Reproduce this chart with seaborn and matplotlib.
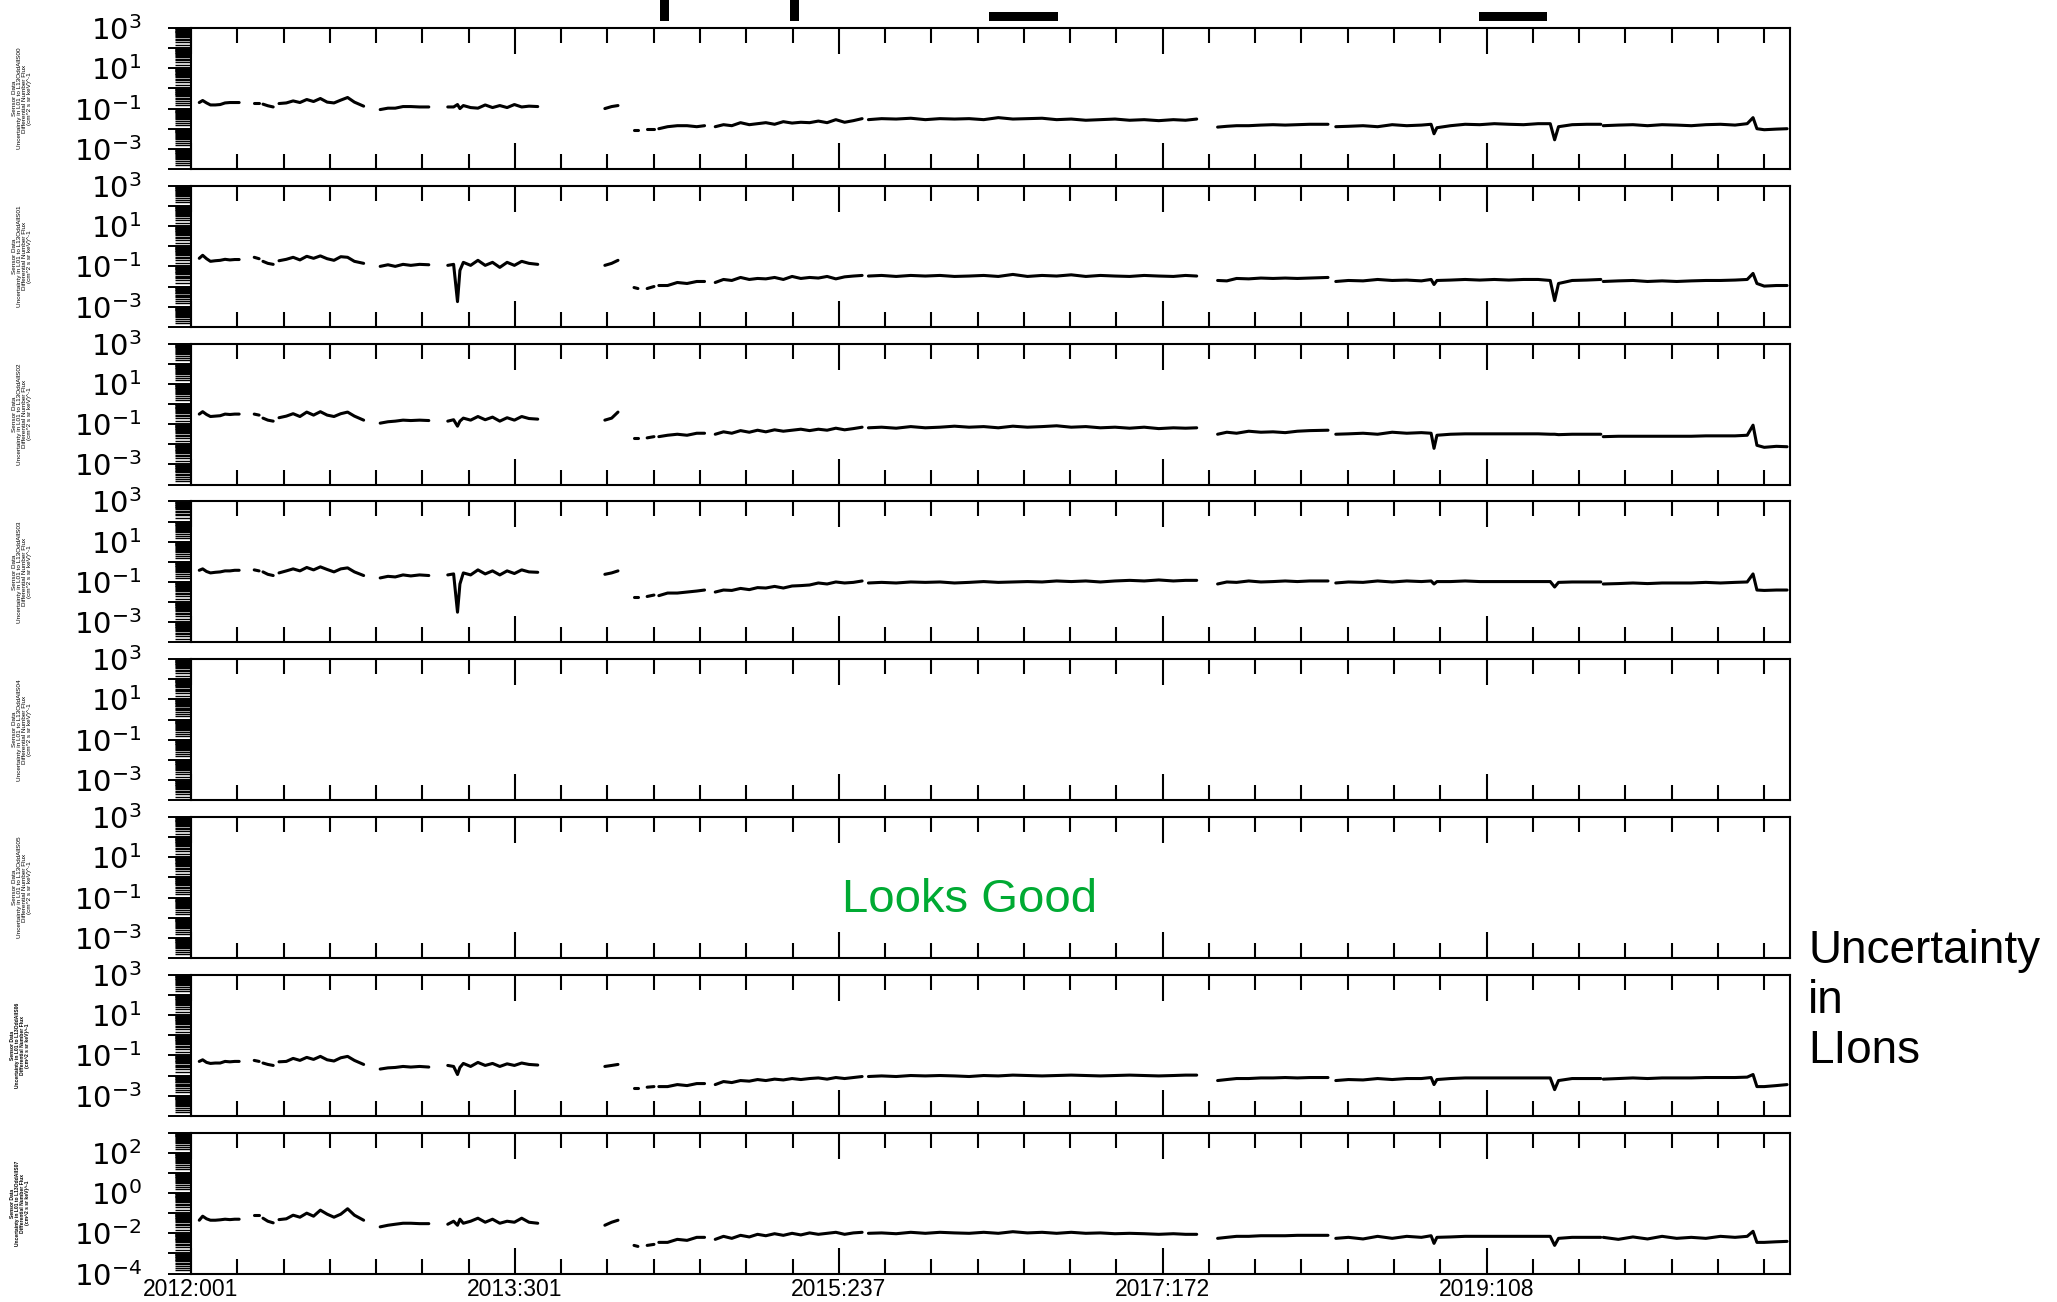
import numpy as np
import pandas as pd
import matplotlib
matplotlib.use("Agg")
import matplotlib.pyplot as plt
import matplotlib.ticker as mticker
import seaborn as sns

# ---------------- data (x: days since 2012:001, y: log10 of uncertainty) ----------------
seg_A = [17, 24, 32, 40, 50, 60, 70, 80, 90, 99]
seg_B = [130, 140]
seg_C = [148, 158, 169]
seg_D = [181, 196, 210, 224, 238, 252, 266, 280, 294, 308, 322, 336, 355]
seg_E = [389, 405, 420, 436, 452, 470, 489]
seg_F = [528, 540, 548, 553, 560, 575, 590, 605, 620, 635, 650, 665, 680, 695, 713]
seg_G = [851, 865, 878]
seg_H1 = [911, 919]
seg_H2 = [938, 952]
seg_H3 = [962, 980, 1000, 1020, 1040, 1056]
seg_I = [1078, 1095, 1112, 1130, 1148, 1165, 1182, 1200, 1218, 1236, 1254, 1272, 1290, 1308, 1326, 1344, 1362, 1380]
seg_J = [1393, 1420, 1450, 1480, 1510, 1540, 1570, 1600, 1630, 1660, 1690, 1720, 1750, 1780, 1810, 1840,
         1870, 1900, 1930, 1960, 1990, 2020, 2045, 2068]
seg_K = [2111, 2130, 2150, 2175, 2200, 2225, 2250, 2275, 2300, 2338]
seg_LM = [2354, 2380, 2410, 2440, 2470, 2500, 2530, 2550, 2556, 2562, 2590, 2620, 2650, 2680, 2710, 2740,
          2770, 2795, 2804, 2812, 2840, 2870, 2899]
seg_N = [2904, 2935, 2965, 2995, 3025, 3055, 3085, 3115, 3145, 3175, 3200, 3212, 3220, 3235, 3260, 3282]
segment_days = [seg_A, seg_B, seg_C, seg_D, seg_E, seg_F, seg_G, seg_H1, seg_H2, seg_H3,
                seg_I, seg_J, seg_K, seg_LM, seg_N]

s00_log = [
    [-0.70, -0.60, -0.72, -0.82, -0.82, -0.80, -0.72, -0.70, -0.70, -0.70],
    [-0.70, -0.70],
    [-0.78, -0.86, -0.92],
    [-0.75, -0.72, -0.62, -0.70, -0.55, -0.65, -0.50, -0.68, -0.72, -0.58, -0.45, -0.68, -0.88],
    [-1.05, -0.98, -0.98, -0.90, -0.90, -0.92, -0.92],
    [-0.92, -0.92, -0.80, -1.00, -0.85, -0.95, -0.98, -0.82, -0.95, -0.85, -0.95, -0.80, -0.92, -0.88, -0.90],
    [-1.00, -0.90, -0.85],
    [-2.05, -2.05],
    [-2.02, -2.02],
    [-2.00, -1.90, -1.85, -1.85, -1.90, -1.85],
    [-1.90, -1.80, -1.85, -1.70, -1.80, -1.75, -1.70, -1.78, -1.65, -1.72, -1.68, -1.70, -1.62, -1.70, -1.55,
     -1.68, -1.60, -1.50],
    [-1.55, -1.50, -1.52, -1.48, -1.55, -1.50, -1.52, -1.50, -1.55, -1.45, -1.52, -1.50, -1.48, -1.55, -1.52,
     -1.58, -1.55, -1.52, -1.58, -1.55, -1.60, -1.55, -1.58, -1.52],
    [-1.92, -1.88, -1.85, -1.85, -1.82, -1.80, -1.82, -1.80, -1.78, -1.78],
    [-1.90, -1.88, -1.85, -1.90, -1.80, -1.85, -1.82, -1.78, -2.25, -1.95, -1.85, -1.78, -1.80, -1.75, -1.78,
     -1.80, -1.75, -1.75, -2.55, -1.90, -1.80, -1.78, -1.78],
    [-1.85, -1.82, -1.80, -1.85, -1.80, -1.82, -1.85, -1.80, -1.78, -1.82, -1.75, -1.45, -2.00, -2.05, -2.02, -2.00],
]

s01_log = [
    [-0.60, -0.45, -0.62, -0.75, -0.72, -0.70, -0.65, -0.68, -0.66, -0.66],
    [-0.55, -0.62],
    [-0.75, -0.85, -0.90],
    [-0.72, -0.65, -0.55, -0.68, -0.50, -0.60, -0.48, -0.62, -0.70, -0.52, -0.55, -0.75, -0.85],
    [-1.00, -0.92, -1.00, -0.90, -0.95, -0.90, -0.92],
    [-0.95, -0.90, -2.75, -1.20, -0.80, -0.95, -0.70, -0.95, -0.80, -1.05, -0.80, -0.95, -0.75, -0.85, -0.90],
    [-0.95, -0.85, -0.70],
    [-2.05, -2.10],
    [-2.10, -2.00],
    [-1.95, -1.95, -1.80, -1.85, -1.75, -1.75],
    [-1.80, -1.65, -1.70, -1.55, -1.65, -1.60, -1.62, -1.55, -1.65, -1.50, -1.60, -1.55, -1.58, -1.50, -1.62,
     -1.52, -1.48, -1.45],
    [-1.48, -1.45, -1.50, -1.45, -1.48, -1.45, -1.50, -1.48, -1.45, -1.50, -1.40, -1.50, -1.45, -1.48, -1.42,
     -1.50, -1.45, -1.48, -1.50, -1.45, -1.48, -1.50, -1.45, -1.48],
    [-1.70, -1.72, -1.60, -1.62, -1.58, -1.60, -1.58, -1.60, -1.58, -1.55],
    [-1.75, -1.70, -1.72, -1.65, -1.70, -1.68, -1.72, -1.65, -1.90, -1.70, -1.68, -1.65, -1.68, -1.65, -1.68,
     -1.65, -1.65, -1.70, -2.70, -1.85, -1.70, -1.68, -1.65],
    [-1.75, -1.72, -1.70, -1.75, -1.72, -1.75, -1.72, -1.70, -1.70, -1.68, -1.65, -1.35, -1.85, -1.98, -1.95, -1.95],
]

s02_log = [
    [-0.50, -0.38, -0.52, -0.62, -0.60, -0.58, -0.50, -0.52, -0.50, -0.50],
    [-0.50, -0.55],
    [-0.70, -0.80, -0.85],
    [-0.68, -0.60, -0.48, -0.62, -0.40, -0.55, -0.38, -0.55, -0.62, -0.48, -0.40, -0.60, -0.80],
    [-0.95, -0.88, -0.85, -0.80, -0.82, -0.80, -0.82],
    [-0.85, -0.78, -1.10, -0.85, -0.70, -0.80, -0.62, -0.78, -0.65, -0.85, -0.68, -0.80, -0.62, -0.72, -0.75],
    [-0.80, -0.70, -0.40],
    [-1.70, -1.70],
    [-1.68, -1.62],
    [-1.62, -1.55, -1.50, -1.55, -1.45, -1.45],
    [-1.50, -1.38, -1.45, -1.32, -1.40, -1.30, -1.38, -1.28, -1.35, -1.30, -1.25, -1.32, -1.25, -1.30, -1.20,
     -1.28, -1.22, -1.15],
    [-1.18, -1.15, -1.20, -1.12, -1.18, -1.15, -1.10, -1.15, -1.12, -1.18, -1.10, -1.15, -1.12, -1.08, -1.15,
     -1.12, -1.18, -1.15, -1.20, -1.15, -1.22, -1.18, -1.20, -1.18],
    [-1.50, -1.40, -1.45, -1.35, -1.40, -1.38, -1.42, -1.35, -1.32, -1.30],
    [-1.50, -1.48, -1.45, -1.50, -1.40, -1.45, -1.42, -1.45, -2.20, -1.55, -1.50, -1.48, -1.48, -1.48, -1.48,
     -1.48, -1.48, -1.50, -1.50, -1.52, -1.50, -1.50, -1.50],
    [-1.62, -1.60, -1.60, -1.60, -1.60, -1.60, -1.60, -1.58, -1.58, -1.58, -1.55, -1.05, -2.05, -2.15, -2.10, -2.12],
]

s03_log = [
    [-0.42, -0.35, -0.48, -0.55, -0.52, -0.50, -0.45, -0.45, -0.42, -0.42],
    [-0.40, -0.45],
    [-0.50, -0.62, -0.68],
    [-0.55, -0.45, -0.35, -0.45, -0.28, -0.40, -0.25, -0.38, -0.50, -0.35, -0.30, -0.50, -0.68],
    [-0.80, -0.72, -0.75, -0.65, -0.70, -0.65, -0.68],
    [-0.65, -0.60, -2.50, -1.10, -0.55, -0.65, -0.40, -0.60, -0.45, -0.65, -0.45, -0.58, -0.40, -0.50, -0.52],
    [-0.62, -0.55, -0.45],
    [-1.75, -1.75],
    [-1.72, -1.65],
    [-1.68, -1.55, -1.55, -1.50, -1.45, -1.40],
    [-1.50, -1.40, -1.42, -1.32, -1.38, -1.28, -1.30, -1.22, -1.30, -1.20, -1.18, -1.15, -1.05, -1.10, -1.00,
     -1.05, -1.02, -0.95],
    [-1.05, -1.02, -1.05, -1.00, -1.02, -1.00, -1.05, -1.02, -0.98, -1.02, -1.00, -0.98, -1.00, -0.95, -0.98,
     -0.95, -1.00, -0.95, -0.92, -0.95, -0.90, -0.95, -0.92, -0.92],
    [-1.10, -1.00, -1.02, -0.95, -1.00, -0.98, -0.95, -0.98, -0.95, -0.95],
    [-1.05, -1.00, -1.02, -0.95, -1.00, -0.95, -0.98, -0.95, -1.10, -0.98, -0.98, -0.95, -0.98, -0.98, -0.98,
     -0.98, -0.98, -0.98, -1.25, -1.02, -1.00, -1.00, -1.00],
    [-1.10, -1.08, -1.05, -1.08, -1.05, -1.05, -1.05, -1.02, -1.05, -1.02, -1.00, -0.60, -1.40, -1.42, -1.40, -1.40],
]

s06_log = [
    [-1.30, -1.22, -1.35, -1.40, -1.38, -1.38, -1.30, -1.32, -1.30, -1.30],
    [-1.25, -1.30],
    [-1.38, -1.45, -1.50],
    [-1.32, -1.30, -1.15, -1.25, -1.10, -1.20, -1.05, -1.22, -1.28, -1.12, -1.05, -1.25, -1.45],
    [-1.68, -1.62, -1.60, -1.55, -1.58, -1.55, -1.58],
    [-1.50, -1.55, -1.95, -1.60, -1.40, -1.55, -1.35, -1.50, -1.40, -1.55, -1.42, -1.50, -1.38, -1.45, -1.48],
    [-1.55, -1.50, -1.45],
    [-2.60, -2.60],
    [-2.58, -2.55],
    [-2.55, -2.55, -2.45, -2.50, -2.40, -2.40],
    [-2.45, -2.30, -2.35, -2.25, -2.28, -2.20, -2.25, -2.18, -2.22, -2.15, -2.20, -2.15, -2.12, -2.18, -2.10,
     -2.15, -2.10, -2.05],
    [-2.05, -2.02, -2.05, -2.00, -2.02, -2.00, -2.02, -2.05, -2.00, -2.02, -1.98, -2.00, -2.02, -2.00, -1.98,
     -2.00, -2.02, -2.00, -1.98, -2.00, -2.02, -2.00, -1.98, -1.98],
    [-2.25, -2.20, -2.15, -2.15, -2.12, -2.12, -2.10, -2.12, -2.10, -2.10],
    [-2.25, -2.20, -2.22, -2.15, -2.20, -2.15, -2.15, -2.10, -2.45, -2.20, -2.15, -2.12, -2.12, -2.12, -2.12,
     -2.12, -2.12, -2.12, -2.70, -2.25, -2.15, -2.15, -2.15],
    [-2.18, -2.15, -2.12, -2.15, -2.12, -2.12, -2.12, -2.10, -2.10, -2.10, -2.08, -1.95, -2.55, -2.55, -2.50, -2.45],
]

s07_log = [
    [-1.35, -1.15, -1.28, -1.35, -1.35, -1.33, -1.30, -1.32, -1.30, -1.30],
    [-1.10, -1.10],
    [-1.25, -1.40, -1.48],
    [-1.32, -1.28, -1.10, -1.20, -1.00, -1.15, -0.85, -1.05, -1.20, -1.05, -0.78, -1.10, -1.35],
    [-1.68, -1.60, -1.55, -1.50, -1.50, -1.52, -1.52],
    [-1.55, -1.40, -1.60, -1.30, -1.50, -1.40, -1.25, -1.45, -1.30, -1.50, -1.40, -1.45, -1.25, -1.45, -1.50],
    [-1.60, -1.45, -1.35],
    [-2.60, -2.65],
    [-2.60, -2.55],
    [-2.45, -2.45, -2.30, -2.35, -2.20, -2.20],
    [-2.30, -2.15, -2.25, -2.10, -2.18, -2.05, -2.12, -2.02, -2.10, -2.00, -2.08, -1.98, -2.05, -2.00, -1.95,
     -2.05, -1.98, -1.95],
    [-2.00, -1.98, -2.02, -1.95, -2.00, -1.95, -1.98, -2.00, -1.95, -2.00, -1.92, -1.98, -1.95, -2.00, -1.95,
     -2.00, -1.98, -2.02, -2.00, -2.02, -2.05, -2.02, -2.05, -2.05],
    [-2.25, -2.20, -2.15, -2.15, -2.12, -2.12, -2.12, -2.10, -2.10, -2.10],
    [-2.25, -2.20, -2.28, -2.15, -2.25, -2.15, -2.20, -2.12, -2.50, -2.20, -2.18, -2.15, -2.15, -2.15, -2.15,
     -2.15, -2.15, -2.15, -2.60, -2.25, -2.20, -2.20, -2.20],
    [-2.20, -2.30, -2.18, -2.28, -2.15, -2.25, -2.20, -2.25, -2.15, -2.20, -2.15, -1.90, -2.45, -2.45, -2.42, -2.40],
]

panel_names = ["S00", "S01", "S02", "S03", "S04", "S05", "S06", "S07"]
panel_data = [s00_log, s01_log, s02_log, s03_log, None, None, s06_log, s07_log]

x_tick_days = [0, 666, 1332, 1998, 2664]
x_tick_labels = ["2012:001", "2013:301", "2015:237", "2017:172", "2019:108"]
x_end_day = 3288

event_start = [965, 1232, 1641, 2648]
event_end = [982, 1251, 1783, 2788]
event_tall = [True, True, False, False]

# ---------------- style ----------------
sns.set_theme(style="ticks")
plt.rcParams["font.family"] = ["Liberation Sans", "DejaVu Sans"]
plt.rcParams.update({
    "axes.edgecolor": "black", "xtick.color": "black", "ytick.color": "black",
    "text.color": "black", "axes.linewidth": 1.5, "axes.facecolor": "white",
    "figure.facecolor": "white",
    "mathtext.fontset": "dejavusans",
    "xtick.direction": "in", "xtick.top": True, "xtick.bottom": True,
    "xtick.major.size": 19, "xtick.minor.size": 10.5,
    "xtick.major.width": 1.5, "xtick.minor.width": 1.5,
    "xtick.labelsize": 16.5, "xtick.major.pad": 3,
    "ytick.direction": "out", "ytick.left": True, "ytick.right": False,
    "ytick.major.size": 16.5, "ytick.minor.size": 11.5,
    "ytick.major.width": 1.4, "ytick.minor.width": 1.0,
    "ytick.labelsize": 21, "ytick.major.pad": 19,
})

W, H = 2057, 1302
fig = plt.figure(figsize=(W / 100, H / 100), dpi=100)
left = 191 / W
width = 1599 / W
ph = 141
tops = [28 + 157.8 * i for i in range(8)]


def make_df(segs):
    rows = []
    for k, (days, vals) in enumerate(zip(segment_days, segs)):
        if len(days) != len(vals):
            raise ValueError(f"segment {k}: {len(days)} vs {len(vals)}")
        for d, v in zip(days, vals):
            rows.append({"seg": k, "day": d, "value": 10.0 ** v})
    return pd.DataFrame(rows)


def yfmt_factory(labels):
    def f(v, pos):
        e = int(round(np.log10(v)))
        return r"$10^{%d}$" % e if e in labels else ""
    return f


axes = []
for i, name in enumerate(panel_names):
    ax = fig.add_axes([left, 1 - (tops[i] + ph) / H, width, ph / H])
    axes.append(ax)
    ax.set_yscale("log")
    segs = panel_data[i]
    if segs is not None:
        df = make_df(segs)
        sns.lineplot(data=df, x="day", y="value", units="seg", estimator=None,
                     color="black", linewidth=2.2, ax=ax, legend=False)
    ax.set_xlim(0, x_end_day)
    ax.set_ylim(1e-4, 1e3)
    ax.set_xlabel("")
    ax.set_ylabel("")
    for sp in ax.spines.values():
        sp.set_visible(True)
        sp.set_linewidth(1.5)
        sp.set_color("black")
    # x ticks
    ax.set_xticks(x_tick_days)
    ax.set_xticks([k * 666 / 7 for k in range(1, 35) if k % 7], minor=True)
    if i == 7:
        ax.set_xticklabels(x_tick_labels)
    else:
        ax.tick_params(axis="x", labelbottom=False)
    # y ticks
    ax.yaxis.set_major_locator(mticker.LogLocator(base=10, numticks=30))
    ax.yaxis.set_minor_locator(mticker.LogLocator(base=10, subs=np.arange(1.5, 10.0, 0.5), numticks=30))
    labs = {2, 0, -2, -4} if i == 7 else {3, 1, -1, -3}
    ax.yaxis.set_major_formatter(mticker.FuncFormatter(yfmt_factory(labs)))
    ax.yaxis.set_minor_formatter(mticker.NullFormatter())
    # tiny y label
    ycen = 1 - (tops[i] + ph / 2) / H
    label = ("Sensor Data\nUncertainty in L01 to L13OddAll%s\nDifferential Number Flux\n"
             "(cm^2 s sr keV)^-1" % name)
    if i >= 6:
        fig.text(20 / W, ycen, label, rotation=90, ha="center", va="center",
                 fontsize=3.6, fontweight="bold", linespacing=1.0, multialignment="center")
    else:
        fig.text(22 / W, ycen, label, rotation=90, ha="center", va="center",
                 fontsize=4.6, linespacing=1.0, multialignment="center")

# event bars above the first panel
axb = fig.add_axes([left, 1 - 28 / H, width, 28 / H])
axb.set_xlim(0, x_end_day)
axb.set_ylim(0, 28)
axb.axis("off")
for s, e, tall in zip(event_start, event_end, event_tall):
    axb.bar(s, 21 if tall else 9, width=e - s, bottom=7, align="edge", color="black", linewidth=0)

# annotations
fig.text(969 / W, 1 - 900 / H, "Looks Good", color="#00aa33", fontsize=34,
         ha="center", va="center")
fig.text(1808 / W, 1 - 1001 / H, "Uncertainty\nin\nLIons", fontsize=33,
         ha="left", va="center", linespacing=1.17)

fig.savefig("out.png", dpi=100)
